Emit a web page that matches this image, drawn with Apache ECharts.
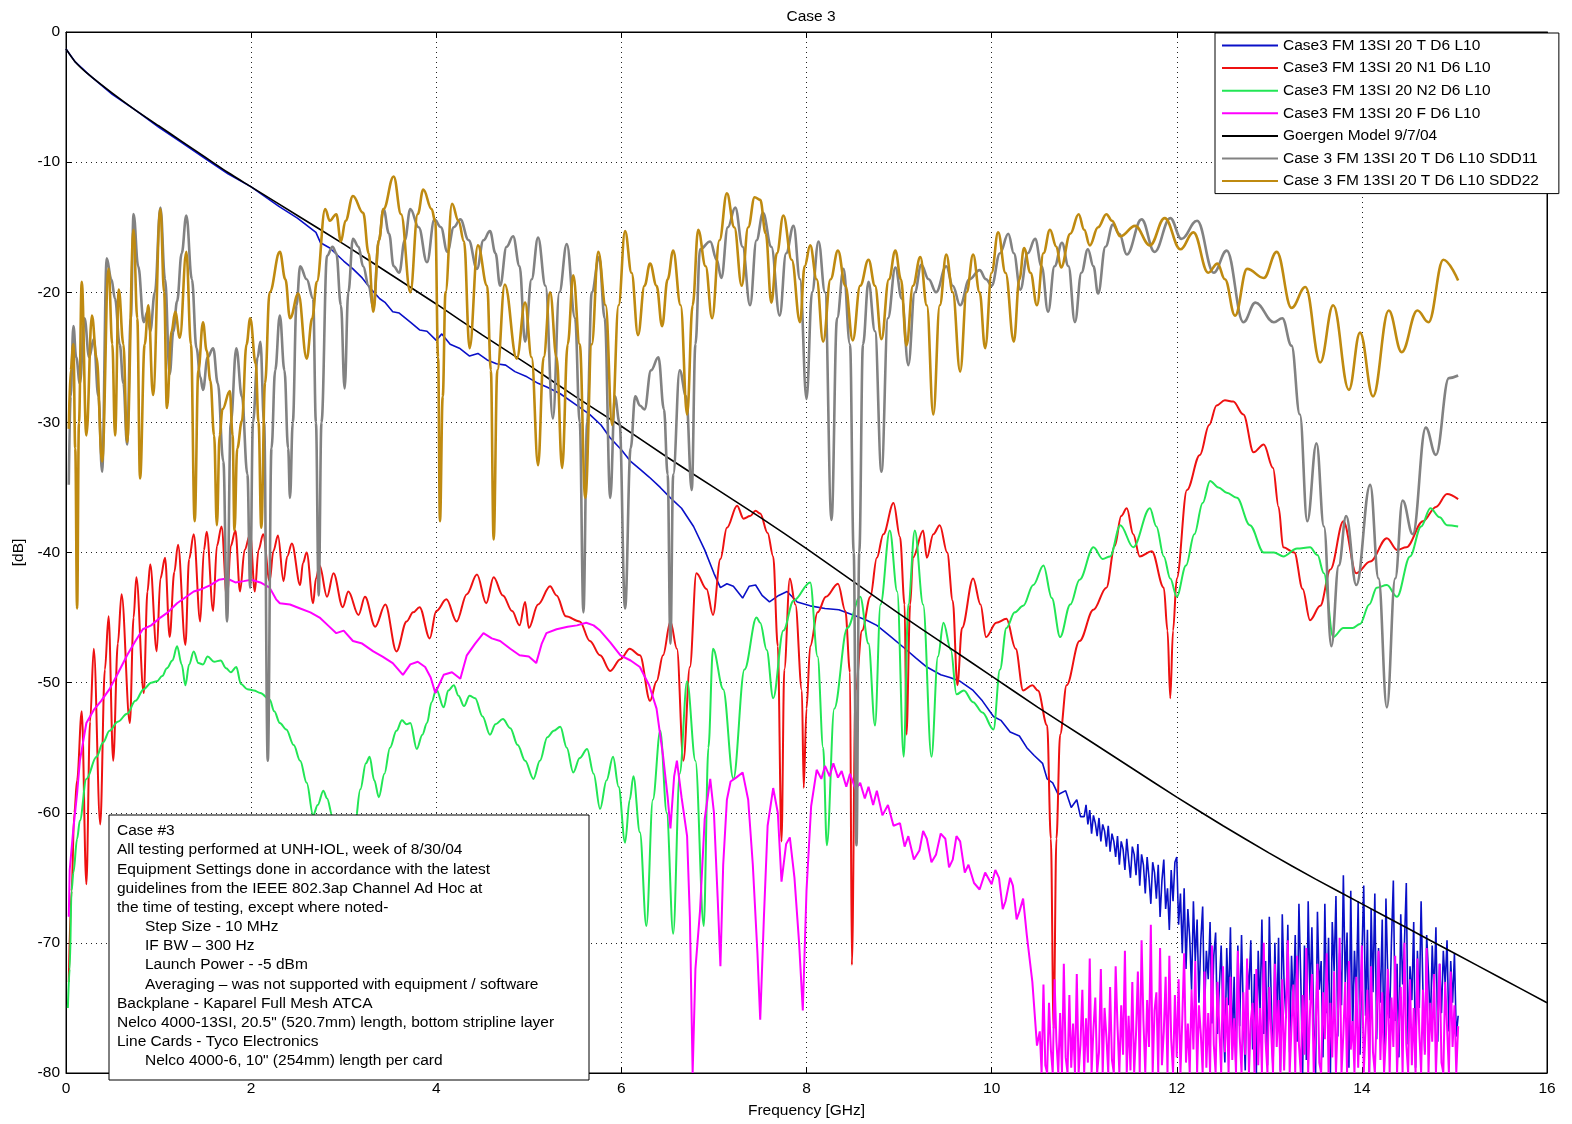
<!DOCTYPE html>
<html>
<head>
<meta charset="utf-8">
<script src="https://cdn.jsdelivr.net/npm/echarts@6/dist/echarts.min.js"></script>
<style>html,body{margin:0;padding:0;background:#fff}#c{width:1572px;height:1124px}</style>
</head>
<body>
<div id="c"></div>
<script>
// ---------------- DATA ----------------
const seriesNames = [
  'Case3 FM 13SI 20 T D6 L10',
  'Case3 FM 13SI 20 N1 D6 L10',
  'Case3 FM 13SI 20 N2 D6 L10',
  'Case3 FM 13SI 20 F D6 L10',
  'Goergen Model 9/7/04',
  'Case 3 FM 13SI 20 T D6 L10 SDD11',
  'Case 3 FM 13SI 20 T D6 L10 SDD22'
];
const xTicks = [0, 2, 4, 6, 8, 10, 12, 14, 16];
const yTicks = [-80, -70, -60, -50, -40, -30, -20, -10, 0];

const goergen = [[0,-1.3],[0.1,-2.3],[0.25,-3.3],[0.5,-4.7],[0.75,-6.0],[1,-7.2],[1.25,-8.4],[1.5,-9.6],[1.75,-10.8],[2,-11.9],[2.5,-14.1],[3,-16.3],[3.5,-18.6],[4,-20.9],[4.5,-23.3],[5,-25.6],[5.5,-28.0],[6,-30.3],[6.5,-32.7],[7,-35.0],[7.5,-37.3],[8,-39.7],[8.5,-42.2],[9,-44.7],[9.5,-47.1],[10,-49.5],[10.5,-51.9],[11,-54.2],[11.5,-56.5],[12,-58.8],[12.5,-61.0],[13,-63.1],[13.5,-65.1],[14,-67.0],[14.5,-68.9],[15,-70.8],[15.5,-72.7],[16,-74.6]];

const thruHead = [[0,-1.3],[0.1,-2.3],[0.25,-3.3],[0.5,-4.8],[0.75,-6.0],[1,-7.3],[1.25,-8.5],[1.5,-9.7],[1.75,-10.9],[2,-11.9],[2.3,-13.4],[2.5,-14.3],[2.7,-15.4],[2.75,-16.2],[2.85,-16.6],[3.0,-17.6],[3.1,-18.2],[3.2,-18.9],[3.3,-19.8],[3.39,-20.5],[3.45,-20.8],[3.53,-21.5],[3.6,-21.6],[3.72,-22.3],[3.82,-22.9],[3.9,-23.0],[4.0,-23.7],[4.06,-23.2],[4.15,-24.0],[4.25,-24.3],[4.36,-24.9],[4.45,-24.7],[4.55,-25.2],[4.65,-25.5],[4.75,-25.6],[4.85,-26.1],[4.98,-26.5],[5.1,-27.0],[5.2,-27.3],[5.34,-27.8],[5.5,-28.6],[5.66,-29.4],[5.78,-30.2],[5.88,-31.2],[6.0,-32.1],[6.1,-33.0],[6.2,-33.6],[6.3,-34.2],[6.42,-35.0],[6.53,-35.8],[6.65,-36.6],[6.78,-38.0],[6.9,-39.8],[7.0,-41.6],[7.07,-42.7],[7.14,-42.4],[7.21,-42.6],[7.31,-43.5],[7.38,-42.6],[7.45,-42.5],[7.52,-43.3],[7.6,-43.8],[7.7,-43.3],[7.79,-43.0],[7.9,-43.8],[8.04,-44.1],[8.2,-44.3],[8.35,-44.4],[8.54,-44.9],[8.65,-45.2],[8.76,-45.6],[8.9,-46.4],[9.05,-47.3],[9.18,-48.1],[9.3,-48.8],[9.45,-49.4],[9.55,-49.6],[9.66,-49.9],[9.8,-50.6],[9.9,-51.4],[10.02,-52.6],[10.1,-52.9],[10.2,-53.8],[10.3,-54.1],[10.38,-55.0],[10.46,-55.6],[10.55,-56.2],[10.6,-57.4],[10.66,-57.7],[10.72,-58.6],[10.8,-58.3],[10.86,-59.6],[10.92,-59.0],[10.96,-60.3]];
// measured noise floor, read on a 0.02 GHz grid starting at 11.00 GHz
const thruTailStart = 11.0, thruTailStep = 0.02;
const thruTail = [
  -60.3,-59.4,-60.9,-59.8,-61.6,-60.2,-60.8,-61.8,-60.4,-62.2,
  -60.9,-61.4,-62.6,-61.0,-63.0,-61.6,-62.2,-63.4,-61.8,-64.0,
  -62.2,-62.8,-64.4,-62.0,-63.6,-65.0,-62.6,-63.2,-64.8,-62.4,
  -65.6,-63.2,-64.0,-66.2,-63.4,-65.0,-67.0,-63.8,-64.6,-66.6,
  -64.0,-68.0,-65.2,-63.6,-67.4,-65.8,-69.0,-64.4,-66.8,-63.8,
  -63.4,-68.6,-66.2,-70.8,-65.8,-72.0,-67.4,-69.6,-73.6,-66.8,
  -71.4,-68.2,-74.6,-69.8,-67.2,-75.4,-70.6,-72.8,-68.4,-76.2,
  -71.0,-69.2,-77.0,-73.4,-70.2,-75.8,
  -79.2,-70.4,-74.8,-68.8,-78.0,-72.6,-80,-70.2,-76.4,-69.4,
  -75.6,-79.8,-71.8,-73.6,-69.8,-78.2,-72.4,-80,-70.6,-75.2,
  -68.2,-77.0,-71.4,-79.4,-68.0,-74.0,-80,-70.0,-76.6,-69.6,
  -79.8,-67.8,-73.2,-75.8,-68.6,-78.4,-71.0,-75.0,-69.4,-77.6,
  -67.0,-72.8,-80,-70.2,-79.0,-66.8,-74.4,-68.8,-76.2,-80,
  -67.6,-73.6,-71.4,-78.8,-67.0,-75.4,-69.6,-80,-68.4,-72.2,
  -66.4,-77.2,-70.8,-74.8,-64.8,-73.0,-69.2,-79.6,-66.0,-76.8,
  -70.6,-74.2,-66.8,-78.6,-71.2,-65.6,-75.6,-69.0,-80,-67.4,
  -73.8,-66.2,-77.4,-70.4,-74.6,-68.2,-79.2,-66.6,-72.6,-75.8,
  -69.8,-65.2,-76.0,-71.6,-78.8,-67.8,-73.2,-70.0,-65.4,-77.8,
  -71.8,-74.4,-68.4,-79.6,-70.6,-75.0,-66.8,-73.8,-78.4,-69.4,
  -72.4,-76.6,-70.2,-74.0,-68.8,-77.6,-71.6,-75.4,-70.6,-73.2,
  -69.8,-76.8,-71.4,-74.6,-70.8,-77.2,-75.6];

const n1 = [[0.03,-73],[0.06,-66],[0.09,-60],[0.12,-57.5],[0.17,-52.2],[0.22,-65.5],[0.26,-53],[0.3,-47.4],[0.37,-60.9],[0.42,-49],[0.46,-44.9],[0.51,-56.0],[0.56,-47],[0.6,-43.2],[0.69,-53.1],[0.73,-45],[0.76,-41.9],[0.84,-50.8],[0.88,-43],[0.91,-40.9],[0.98,-47.6],[1.02,-42],[1.07,-40.4],[1.12,-46.5],[1.17,-41.5],[1.21,-39.4],[1.29,-47.1],[1.33,-40.5],[1.38,-38.6],[1.45,-45.3],[1.49,-39.8],[1.52,-38.4],[1.59,-44.5],[1.63,-39.5],[1.68,-38.0],[1.74,-43.6],[1.78,-39.5],[1.83,-38.3],[1.88,-43.0],[1.93,-39.8],[1.99,-38.6],[2.04,-43.0],[2.08,-39.8],[2.13,-38.6],[2.2,-42.2],[2.24,-39.9],[2.29,-38.7],[2.35,-42.2],[2.39,-40.3],[2.44,-39.3],[2.53,-42.5],[2.56,-40.8],[2.6,-40.0],[2.67,-43.9],[2.7,-42.0],[2.74,-41.0],[2.82,-43.4],[2.89,-41.6],[2.99,-44.2],[3.05,-43.0],[3.16,-44.8],[3.23,-43.4],[3.34,-45.7],[3.45,-44.0],[3.57,-47.6],[3.68,-45.3],[3.75,-44.6],[3.82,-44.2],[3.93,-46.6],[4.0,-44.5],[4.11,-43.6],[4.22,-45.3],[4.33,-43.2],[4.44,-41.7],[4.54,-43.9],[4.62,-41.9],[4.72,-43.3],[4.82,-44.5],[4.9,-45.6],[4.96,-43.8],[5.0,-45.8],[5.1,-44.0],[5.23,-42.6],[5.3,-43.3],[5.4,-44.9],[5.55,-45.3],[5.66,-46.8],[5.77,-47.9],[5.88,-49.1],[5.99,-48.2],[6.09,-47.4],[6.2,-47.9],[6.31,-51.4],[6.38,-49.9],[6.45,-47.9],[6.53,-45.3],[6.6,-47.4],[6.67,-56.0],[6.74,-48.8],[6.81,-41.6],[6.92,-42.8],[6.99,-44.8],[7.07,-40.5],[7.14,-38.1],[7.25,-36.4],[7.32,-37.4],[7.39,-37.2],[7.45,-36.8],[7.5,-37.0],[7.58,-38.5],[7.64,-40.3],[7.69,-47.2],[7.73,-62.2],[7.76,-49.0],[7.82,-42.0],[7.88,-44.0],[7.95,-50.6],[7.97,-58.1],[8.0,-52],[8.04,-47.2],[8.12,-44.6],[8.21,-43.4],[8.34,-42.4],[8.42,-44.5],[8.47,-49.2],[8.49,-71.7],[8.53,-50.6],[8.6,-46.0],[8.69,-43.4],[8.76,-40.4],[8.83,-38.6],[8.94,-36.2],[9.01,-38.8],[9.06,-44.0],[9.08,-54.0],[9.12,-44.0],[9.15,-40.4],[9.26,-38.3],[9.3,-40.4],[9.37,-38.6],[9.44,-37.9],[9.52,-40.0],[9.58,-43.7],[9.63,-50.2],[9.68,-45.8],[9.8,-42.0],[9.88,-44.0],[9.94,-46.5],[10.05,-45.4],[10.16,-45.1],[10.26,-47.4],[10.34,-50.6],[10.44,-50.2],[10.5,-50.6],[10.6,-53.3],[10.64,-62],[10.67,-76.6],[10.7,-62],[10.74,-54.0],[10.81,-50.2],[10.95,-46.8],[11.1,-44.4],[11.24,-42.7],[11.33,-39.5],[11.4,-37.2],[11.46,-36.6],[11.53,-38.6],[11.6,-40.3],[11.73,-39.9],[11.86,-42.7],[11.9,-46],[11.93,-51.2],[11.96,-46],[12.0,-42.0],[12.11,-35.2],[12.25,-32.5],[12.35,-30.2],[12.43,-28.7],[12.52,-28.3],[12.61,-28.4],[12.72,-29.4],[12.83,-32.3],[12.94,-31.7],[13.04,-33.5],[13.1,-36.5],[13.15,-39.6],[13.27,-40.0],[13.36,-42.8],[13.44,-45.2],[13.55,-44.1],[13.66,-41.3],[13.8,-37.6],[13.94,-41.6],[14.09,-40.7],[14.27,-38.9],[14.38,-39.8],[14.48,-39.6],[14.66,-37.6],[14.8,-36.5],[14.92,-35.5],[15.04,-35.9]];

const n2 = [[0.02,-75.0],[0.04,-72],[0.06,-66],[0.08,-64.6],[0.12,-62],[0.15,-60.6],[0.22,-57.4],[0.33,-55.7],[0.4,-54.6],[0.47,-53.7],[0.56,-53.0],[0.66,-52.4],[0.75,-51.4],[0.84,-50.5],[0.92,-50.0],[0.98,-49.9],[1.04,-49.5],[1.09,-48.9],[1.15,-48.3],[1.2,-47.2],[1.25,-48.6],[1.29,-50.2],[1.33,-48.6],[1.38,-47.6],[1.43,-48.5],[1.48,-48.6],[1.53,-48.0],[1.6,-48.4],[1.67,-48.3],[1.73,-48.9],[1.78,-49.2],[1.84,-48.8],[1.89,-50.1],[1.96,-50.5],[2.03,-50.6],[2.1,-50.8],[2.2,-51.3],[2.25,-52.2],[2.31,-53.1],[2.38,-53.6],[2.46,-54.8],[2.53,-56.0],[2.6,-57.7],[2.67,-60.2],[2.72,-59.4],[2.78,-58.3],[2.82,-58.9],[2.88,-60.3],[2.95,-61.5],[3.05,-62.5],[3.12,-61.0],[3.18,-58.2],[3.24,-56.2],[3.28,-55.7],[3.33,-57.5],[3.38,-58.8],[3.44,-57.0],[3.5,-55.0],[3.57,-53.7],[3.63,-52.9],[3.68,-53.2],[3.72,-53.1],[3.79,-55.1],[3.85,-54.0],[3.9,-53.1],[3.95,-51.5],[4.0,-50.5],[4.08,-51.9],[4.13,-50.6],[4.19,-50.2],[4.24,-51.0],[4.3,-51.8],[4.36,-51.0],[4.42,-51.2],[4.5,-52.6],[4.58,-54.0],[4.64,-53.2],[4.72,-52.8],[4.8,-53.5],[4.88,-54.8],[4.96,-56.0],[5.05,-57.4],[5.12,-56.0],[5.2,-54.2],[5.27,-53.7],[5.34,-53.4],[5.41,-55.0],[5.48,-56.9],[5.55,-55.8],[5.63,-55.1],[5.7,-57.0],[5.77,-59.7],[5.84,-57.5],[5.91,-55.7],[5.97,-58.0],[6.04,-62.3],[6.09,-59.0],[6.13,-57.2],[6.2,-61.5],[6.27,-68.7],[6.34,-59.0],[6.42,-53.7],[6.49,-60.0],[6.56,-69.3],[6.63,-57.0],[6.71,-49.9],[6.8,-56.0],[6.89,-68.7],[6.94,-55.0],[6.99,-47.4],[7.1,-50.5],[7.21,-57.4],[7.33,-49.0],[7.46,-45.0],[7.5,-45.4],[7.57,-47.5],[7.64,-51.2],[7.75,-46.0],[7.86,-43.7],[8.04,-42.3],[8.12,-48.0],[8.18,-55.0],[8.22,-62.5],[8.3,-52.0],[8.44,-45.8],[8.58,-43.4],[8.67,-47.0],[8.74,-53.3],[8.8,-44.0],[8.9,-38.3],[8.98,-43.0],[9.05,-55.7],[9.1,-44.0],[9.17,-38.3],[9.26,-44.0],[9.35,-55.7],[9.42,-48.0],[9.48,-45.4],[9.56,-47.5],[9.62,-50.9],[9.7,-50.6],[9.8,-51.5],[9.9,-52.3],[10.02,-53.6],[10.09,-49.0],[10.16,-45.8],[10.25,-44.6],[10.34,-44.1],[10.45,-42.5],[10.56,-41.0],[10.65,-43.5],[10.74,-46.5],[10.85,-44.0],[10.95,-42.1],[11.1,-39.6],[11.2,-40.5],[11.28,-40.3],[11.39,-37.9],[11.53,-39.6],[11.71,-36.6],[11.78,-38.0],[11.86,-40.3],[11.93,-42.0],[12.0,-43.4],[12.1,-41.0],[12.19,-38.6],[12.28,-36.2],[12.36,-34.5],[12.45,-35.0],[12.54,-35.4],[12.65,-35.8],[12.79,-37.9],[12.94,-40.0],[13.05,-40.0],[13.15,-40.3],[13.3,-39.7],[13.44,-39.6],[13.52,-40.2],[13.59,-41.6],[13.69,-46.5],[13.8,-45.8],[13.9,-45.8],[13.98,-45.5],[14.08,-44.0],[14.16,-42.7],[14.27,-42.5],[14.38,-43.4],[14.52,-40.3],[14.64,-38.0],[14.74,-36.6],[14.84,-37.3],[14.92,-37.9],[15.04,-38.0]];

const fextHead = [[0.03,-68],[0.04,-64.4],[0.08,-61.2],[0.12,-58.5],[0.15,-56.0],[0.22,-53.1],[0.3,-52.1],[0.38,-51.4],[0.47,-50.5],[0.56,-49.3],[0.66,-47.9],[0.75,-46.8],[0.83,-45.9],[0.92,-45.6],[1.02,-45.0],[1.1,-44.6],[1.2,-43.9],[1.3,-43.4],[1.38,-43.0],[1.47,-42.8],[1.56,-42.5],[1.65,-42.1],[1.74,-42.0],[1.83,-42.3],[1.92,-42.2],[2.0,-42.1],[2.1,-42.3],[2.2,-42.7],[2.27,-43.6],[2.31,-43.9],[2.42,-44.0],[2.53,-44.3],[2.64,-44.6],[2.74,-45.0],[2.83,-45.6],[2.92,-46.2],[3.0,-46.0],[3.1,-46.8],[3.2,-47.0],[3.32,-47.6],[3.42,-48.0],[3.53,-48.5],[3.64,-49.4],[3.72,-48.6],[3.8,-48.4],[3.88,-48.8],[3.94,-49.6],[3.99,-50.8],[4.08,-49.4],[4.17,-49.2],[4.26,-49.7],[4.33,-47.9],[4.42,-47.0],[4.51,-46.2],[4.6,-46.6],[4.69,-46.8],[4.8,-47.4],[4.9,-47.9],[5.0,-48.0],[5.08,-48.5],[5.14,-47.0],[5.19,-46.2],[5.3,-45.9],[5.42,-45.7],[5.52,-45.6],[5.62,-45.4],[5.7,-45.6],[5.77,-46.0],[5.88,-46.9],[5.99,-47.9],[6.1,-48.3],[6.2,-48.8],[6.3,-50.2],[6.38,-52.0],[6.45,-55.6],[6.5,-58.8],[6.53,-61.2],[6.57,-57.2],[6.6,-56.0],[6.65,-58.8],[6.71,-61.8],[6.74,-68.0],[6.77,-80],[6.8,-72.0],[6.85,-67.5],[6.9,-60.5],[6.96,-57.4],[7.0,-60.0],[7.04,-66.5],[7.07,-71.8],[7.1,-64.0],[7.14,-59.0],[7.18,-57.6],[7.24,-57.3],[7.31,-56.9],[7.37,-59.0],[7.42,-64.0],[7.47,-70.8],[7.5,-75.9],[7.54,-68.0],[7.58,-61.0],[7.64,-58.1],[7.69,-60.0],[7.73,-65.3],[7.78,-62.4],[7.82,-61.9],[7.87,-65.0],[7.92,-70.0],[7.96,-75.2],[8.0,-66.0],[8.05,-59.5],[8.11,-56.7],[8.16,-57.4],[8.2,-56.4],[8.25,-57.2],[8.29,-56.2],[8.34,-57.3],[8.38,-56.8],[8.43,-58.0],[8.47,-57.0],[8.53,-58.2],[8.58,-57.7],[8.63,-58.9],[8.67,-58.0],[8.72,-59.4],[8.76,-58.3],[8.82,-60.2],[8.88,-59.4],[8.94,-61.0],[9.01,-60.8],[9.06,-62.6],[9.1,-61.8],[9.16,-63.6],[9.22,-62.9],[9.26,-61.4],[9.3,-62.0],[9.35,-63.8],[9.4,-63.2],[9.45,-61.6],[9.5,-62.0],[9.54,-64.2],[9.58,-63.6],[9.62,-61.8],[9.66,-62.2],[9.71,-64.6],[9.75,-64.0],[9.81,-65.4],[9.87,-65.9],[9.93,-64.6],[10.0,-65.5],[10.04,-64.4],[10.08,-65.0],[10.12,-67.4],[10.15,-66.8],[10.2,-65.0],[10.23,-65.6],[10.27,-68.2],[10.3,-67.6],[10.34,-66.6],[10.38,-69.4],[10.44,-73.0],[10.49,-77.9]];
// measured noise floor, read on a 0.02 GHz grid starting at 10.52 GHz
const fextTailStart = 10.52, fextTailStep = 0.02;
const fextTail = [
  -76.8,-80,-73.2,-79.4,-80,-74.6,-78.2,-80,-72.8,-77.6,
  -80,-75.4,-80,-71.6,-78.8,-80,-74.0,-79.6,-76.2,-80,
  -72.4,-80,-77.8,-73.6,-80,-75.8,-79.2,-71.2,-80,-76.6,
  -74.2,-80,-78.4,-72.0,-80,-75.0,-77.2,-80,-73.4,-79.0,
  -80,-71.8,-76.4,-80,-74.8,-78.6,-70.6,-80,-75.6,-79.8,
  -73.0,-80,-77.0,-72.2,-80,-69.8,-76.0,-80,-74.4,-78.0,
  -68.6,-80,-75.2,-73.8,-80,-70.4,-79.4,-76.8,-72.6,-80,
  -71.0,-77.4,-80,-74.0,-78.8,-72.8,-80,-75.8,-70.8,-79.2,
  -76.2,-80,-73.6,-78.2,-71.4,-80,-74.8,-77.0,-80,-72.2,
  -79.6,-75.4,-80,-70.2,-77.8,-80,-73.0,-76.6,-80,-71.8,
  -78.4,-74.2,-80,-72.6,-79.0,-75.8,-80,-70.6,-77.2,-80,
  -73.8,-78.6,-71.2,-80,-76.0,-74.6,-80,-72.0,-79.4,-75.0,
  -80,-70.0,-77.6,-80,-73.4,-76.8,-80,-71.6,-78.0,-74.4,
  -80,-72.8,-79.8,-75.6,-69.8,-80,-76.4,-73.2,-80,-71.0,
  -77.8,-80,-74.0,-78.6,-70.4,-80,-75.2,-72.4,-80,-76.8,
  -71.6,-79.2,-80,-73.8,-77.4,-70.8,-80,-74.6,-78.8,-72.2,
  -80,-75.8,-69.6,-80,-77.0,-73.0,-80,-71.4,-78.2,-76.0,
  -80,-72.6,-79.6,-74.8,-70.2,-80,-76.6,-73.6,-80,-71.8,
  -78.4,-80,-75.4,-70.6,-79.0,-73.8,-80,-77.2,-72.0,-80,
  -74.2,-78.0,-71.0,-80,-76.2,-73.4,-80,-70.0,-77.8,-80,
  -72.8,-79.4,-75.0,-80,-71.2,-76.8,-80,-73.6,-78.6,-70.4,
  -80,-74.6,-77.6,-72.4,-80,-75.8,-71.6,-79.2,-80,-73.0,
  -76.4,-80,-72.2,-78.0,-74.8,-80,-76.4];

const sdd11 = [[0.03,-34.8],[0.05,-28],[0.08,-22.6],[0.11,-25],[0.15,-27],[0.2,-22],[0.25,-25],[0.3,-23.6],[0.35,-28],[0.39,-33.8],[0.44,-17.4],[0.49,-19],[0.53,-20.5],[0.58,-24],[0.62,-27],[0.66,-31.7],[0.7,-22],[0.73,-14.0],[0.78,-18],[0.84,-22.3],[0.88,-21.5],[0.91,-23],[0.96,-20],[1.02,-13.5],[1.07,-19],[1.12,-26.3],[1.16,-23],[1.2,-20.7],[1.25,-17],[1.3,-14.1],[1.36,-19],[1.41,-24.3],[1.45,-26.5],[1.48,-27.5],[1.53,-25],[1.59,-24.3],[1.64,-27],[1.7,-33],[1.74,-45.3],[1.78,-30],[1.84,-24.3],[1.9,-28],[1.96,-34],[1.99,-42.7],[2.02,-30],[2.07,-25],[2.1,-23.8],[2.14,-30],[2.18,-56],[2.22,-32],[2.26,-26],[2.31,-21.8],[2.36,-26],[2.4,-32],[2.42,-35.8],[2.45,-30],[2.49,-21],[2.53,-18.0],[2.6,-19],[2.67,-20.5],[2.7,-30],[2.73,-43.3],[2.76,-30],[2.82,-17.2],[2.88,-16.5],[2.92,-17],[2.97,-21],[3.01,-27.4],[3.05,-20],[3.1,-15.9],[3.16,-16.5],[3.21,-18],[3.27,-19.5],[3.32,-21.2],[3.38,-16],[3.43,-13.6],[3.49,-15.5],[3.54,-18.0],[3.6,-18.5],[3.66,-16],[3.72,-13.6],[3.81,-15],[3.9,-17.7],[3.98,-14.4],[4.05,-15],[4.12,-16.9],[4.19,-15],[4.26,-14.4],[4.35,-16],[4.44,-18.2],[4.51,-16],[4.58,-15.3],[4.64,-17],[4.69,-19.5],[4.76,-16.5],[4.83,-15.7],[4.9,-18],[4.96,-23.8],[5.03,-19],[5.1,-15.8],[5.18,-19.5],[5.26,-29.7],[5.33,-20],[5.41,-16.3],[5.5,-22],[5.55,-30],[5.59,-44.6],[5.63,-30],[5.68,-20],[5.76,-17.3],[5.82,-22],[5.88,-35.8],[5.93,-28],[5.98,-30],[6.04,-44.3],[6.1,-32],[6.15,-28],[6.2,-28.7],[6.25,-29],[6.32,-26],[6.4,-25.0],[6.46,-29],[6.5,-34],[6.53,-47.0],[6.56,-34],[6.63,-26],[6.7,-28],[6.76,-35.2],[6.8,-24],[6.85,-16.7],[6.96,-16.1],[7.03,-17.5],[7.08,-18.9],[7.15,-15],[7.23,-13.5],[7.31,-16.5],[7.39,-21.0],[7.46,-16],[7.53,-13.9],[7.62,-16.5],[7.71,-21.8],[7.78,-17],[7.86,-14.9],[7.93,-19],[8.0,-28.2],[8.06,-20],[8.13,-16.1],[8.2,-20],[8.27,-37.5],[8.33,-22],[8.4,-18.2],[8.47,-24],[8.51,-40],[8.54,-62.5],[8.57,-40],[8.61,-24],[8.67,-19.2],[8.74,-23],[8.81,-33.8],[8.88,-22],[8.96,-18.1],[9.03,-20.5],[9.1,-25.6],[9.17,-20],[9.24,-17.9],[9.32,-19],[9.4,-20],[9.51,-18.0],[9.58,-19.5],[9.66,-21.0],[9.76,-19],[9.87,-18.3],[9.94,-19],[10.0,-19.5],[10.09,-17],[10.18,-15.5],[10.24,-17],[10.31,-19.8],[10.39,-17],[10.47,-15.9],[10.54,-18],[10.61,-21.5],[10.68,-18],[10.76,-16.2],[10.83,-18],[10.9,-22.3],[10.97,-18.5],[11.04,-16.7],[11.1,-18],[11.15,-20.1],[11.23,-16.5],[11.31,-14.8],[11.38,-15.5],[11.46,-17.1],[11.62,-14.4],[11.76,-16.9],[11.93,-14.3],[12.05,-15.9],[12.22,-14.5],[12.4,-18.5],[12.54,-16.8],[12.72,-22.3],[12.85,-20.8],[13.05,-22.3],[13.14,-22.0],[13.24,-24.1],[13.33,-29.4],[13.41,-37.6],[13.51,-31.6],[13.59,-38],[13.67,-47.2],[13.75,-41],[13.83,-37.2],[13.94,-42.5],[14.09,-34.8],[14.18,-42],[14.27,-51.9],[14.36,-42],[14.44,-36.0],[14.55,-38.6],[14.69,-30.4],[14.8,-32.5],[14.94,-26.6],[15.04,-26.4]];

const sdd22 = [[0.03,-30.5],[0.05,-26],[0.08,-24],[0.1,-32],[0.12,-44.3],[0.14,-30],[0.17,-19.2],[0.22,-31.0],[0.28,-21.8],[0.33,-25],[0.39,-33.0],[0.46,-18.2],[0.5,-24],[0.53,-31.0],[0.57,-19.8],[0.62,-24],[0.66,-31.5],[0.73,-15.2],[0.77,-22],[0.8,-34.3],[0.85,-24],[0.89,-21.0],[0.94,-27.9],[1.02,-13.6],[1.06,-20],[1.09,-28.9],[1.14,-23],[1.18,-21.5],[1.23,-23.5],[1.3,-16.9],[1.35,-24],[1.39,-37.6],[1.43,-26],[1.48,-22.3],[1.52,-24.5],[1.56,-26.8],[1.6,-31],[1.63,-37.9],[1.66,-31],[1.69,-29],[1.77,-27.6],[1.8,-31],[1.82,-38.3],[1.85,-32],[1.9,-29.9],[1.95,-24],[1.99,-22.0],[2.05,-25.5],[2.08,-30],[2.11,-38.1],[2.15,-27],[2.2,-20.0],[2.31,-16.9],[2.37,-19],[2.42,-22.0],[2.51,-20.1],[2.6,-25.1],[2.66,-22],[2.71,-19.2],[2.8,-13.6],[2.85,-14.5],[2.92,-14.0],[2.97,-16.1],[3.02,-14.5],[3.1,-12.6],[3.21,-13.9],[3.27,-17],[3.32,-21.5],[3.38,-16],[3.43,-13.6],[3.54,-11.1],[3.62,-14],[3.72,-20.0],[3.8,-14],[3.86,-12.1],[3.95,-13.6],[3.99,-14.6],[4.02,-25],[4.04,-37.6],[4.07,-28],[4.1,-20],[4.17,-13.2],[4.24,-14.5],[4.3,-16.1],[4.36,-24.3],[4.45,-16.4],[4.55,-19.5],[4.59,-26],[4.62,-39.0],[4.66,-26],[4.74,-19.4],[4.87,-25.1],[4.96,-20.8],[5.03,-25],[5.1,-33.3],[5.16,-25],[5.23,-20.0],[5.3,-25],[5.36,-33.5],[5.42,-24],[5.48,-18.7],[5.55,-24],[5.61,-35.8],[5.68,-24],[5.75,-16.9],[5.83,-21],[5.9,-30.2],[5.97,-21],[6.04,-15.3],[6.11,-18.5],[6.18,-23.3],[6.25,-19.5],[6.31,-17.8],[6.38,-19.5],[6.44,-22.6],[6.5,-19],[6.56,-16.8],[6.64,-21],[6.71,-29.4],[6.77,-21],[6.83,-15.2],[6.91,-18],[6.98,-22.0],[7.06,-16],[7.14,-12.4],[7.22,-15],[7.3,-19.5],[7.37,-15],[7.44,-12.7],[7.5,-12.9],[7.56,-15.5],[7.62,-20.8],[7.68,-17],[7.75,-14.1],[7.84,-17.5],[7.93,-22.3],[7.98,-18],[8.04,-16.4],[8.11,-19],[8.18,-23.8],[8.26,-19],[8.34,-16.8],[8.42,-19.5],[8.5,-23.7],[8.58,-19.5],[8.67,-17.5],[8.74,-19.5],[8.81,-23.6],[8.89,-19],[8.96,-16.8],[9.02,-19],[9.08,-24.1],[9.15,-19.5],[9.23,-17.3],[9.3,-21],[9.37,-29.4],[9.44,-21],[9.51,-17.1],[9.58,-20],[9.66,-26.1],[9.73,-20],[9.8,-17.1],[9.87,-20],[9.93,-24.3],[10.0,-18.5],[10.07,-15.4],[10.15,-18.5],[10.24,-23.8],[10.3,-19],[10.35,-16.6],[10.42,-18.5],[10.49,-21.0],[10.56,-17],[10.63,-15.2],[10.7,-16.5],[10.75,-18.1],[10.85,-15.5],[10.94,-14.0],[11.0,-15.2],[11.06,-16.4],[11.15,-15],[11.24,-14.0],[11.3,-14.5],[11.39,-15.7],[11.55,-14.9],[11.71,-16.4],[11.87,-14.3],[12.04,-16.7],[12.18,-15.4],[12.34,-18.5],[12.44,-17.8],[12.52,-19],[12.63,-21.8],[12.76,-18.2],[12.94,-18.9],[13.08,-16.9],[13.24,-21.2],[13.39,-19.6],[13.55,-25.4],[13.69,-21.0],[13.86,-27.5],[13.98,-23.1],[14.12,-28.0],[14.29,-21.4],[14.43,-24.6],[14.6,-21.4],[14.72,-22.3],[14.88,-17.5],[15.04,-19.1]];

const noteLines = [
  ['Case #3', 0],
  ['All testing performed at UNH-IOL, week of 8/30/04', 0],
  ['Equipment Settings done in accordance with the latest', 0],
  ['guidelines from the IEEE 802.3ap Channel Ad Hoc at', 0],
  ['the time of testing, except where noted-', 0],
  ['Step Size - 10 MHz', 1],
  ['IF BW \u2013 300 Hz', 1],
  ['Launch Power - -5 dBm', 1],
  ['Averaging \u2013 was not supported with equipment / software', 1],
  ['Backplane - Kaparel Full Mesh ATCA', 0],
  ['Nelco 4000-13SI, 20.5" (520.7mm) length, bottom stripline layer', 0],
  ['Line Cards - Tyco Electronics', 0],
  ['Nelco 4000-6, 10" (254mm) length per card', 1]
];

// ---------------- BUILD ----------------
const gridFreq = (start, step, i) => Math.round((start + i * step) * 100) / 100;
const thru = thruHead.concat(thruTail.map((v, i) => [gridFreq(thruTailStart, thruTailStep, i), v]));
const fext = fextHead.concat(fextTail.map((v, i) => [gridFreq(fextTailStart, fextTailStep, i), v]));

const FONT = '"Liberation Sans", Arial, Helvetica, sans-serif';
const FS = 15.5;
const colors = ['#0a10c8', '#ee1111', '#22e655', '#ff00ff', '#000000', '#828282', '#bf8a10'];
const datasets = [thru, n1, n2, fext, goergen, sdd11, sdd22];
const widths = [1.6, 2, 2, 2, 1.6, 2.6, 2.6];
const smoothOn = [false, 0.35, 0.35, false, 0.25, 0.4, 0.4];

const series = datasets.map((d, i) => ({
  name: seriesNames[i],
  type: 'line',
  data: d,
  color: colors[i],
  showSymbol: false,
  symbol: 'none',
  smooth: smoothOn[i],
  smoothMonotone: (smoothOn[i] && i !== 4) ? 'x' : undefined,
  lineStyle: { color: colors[i], width: widths[i] },
  emphasis: { disabled: true },
  z: 2 + i
}));

const axisCommon = {
  type: 'value',
  axisLine: { show: true, onZero: false, lineStyle: { color: '#000', width: 1 } },
  axisTick: { show: true, inside: true, length: 6, lineStyle: { color: '#000' } },
  splitLine: { show: false },
  axisLabel: { color: '#000', fontSize: FS, fontFamily: FONT }
};

const graphics = [{
  type: 'rect',
  shape: { x: 109, y: 815, width: 480, height: 265 },
  style: { fill: '#fff', stroke: '#000', lineWidth: 1 },
  z: 100
}].concat(noteLines.map((l, i) => ({
  type: 'text',
  x: l[1] ? 145 : 117,
  y: 831 + i * 19.17,
  style: { text: l[0], fill: '#000', font: FS + 'px ' + FONT, textVerticalAlign: 'middle' },
  z: 101
})));

const chart = echarts.init(document.getElementById('c'), null, { renderer: 'canvas' });
chart.setOption({
  animation: false,
  backgroundColor: '#fff',
  title: {
    text: 'Case 3', left: 806, top: 4, textAlign: 'center',
    textStyle: { fontSize: FS, fontWeight: 'normal', color: '#000', fontFamily: FONT }
  },
  grid: { left: 66, right: 25, top: 32, bottom: 47, show: true, borderColor: '#000', borderWidth: 1, backgroundColor: 'transparent' },
  legend: {
    data: seriesNames,
    orient: 'vertical',
    left: 1215, top: 33,
    padding: [4, 20, 4, 7],
    itemWidth: 56, itemHeight: 2, itemGap: 5.6,
    icon: 'rect',
    backgroundColor: '#fff',
    borderColor: '#000', borderWidth: 1, borderRadius: 0,
    textStyle: { fontSize: FS, color: '#000', fontFamily: FONT, lineHeight: 17 },
    selectedMode: false,
    z: 100
  },
  xAxis: [
    Object.assign({}, axisCommon, {
      min: 0, max: 16, interval: 2, position: 'bottom',
      name: 'Frequency [GHz]', nameLocation: 'middle', nameGap: 30,
      nameTextStyle: { fontSize: FS, color: '#000', fontFamily: FONT },
      axisLabel: Object.assign({}, axisCommon.axisLabel, { margin: 8, formatter: v => xTicks.includes(v) ? String(v) : '' }),
      splitLine: { show: true, lineStyle: { color: '#222', type: [1, 4], width: 1 } }
    }),
    Object.assign({}, axisCommon, { min: 0, max: 16, interval: 2, position: 'top', axisLabel: { show: false } })
  ],
  yAxis: [
    Object.assign({}, axisCommon, {
      min: -80, max: 0, interval: 10, position: 'left',
      name: '[dB]', nameLocation: 'middle', nameGap: 34, nameRotate: 90,
      nameTextStyle: { fontSize: FS, color: '#000', fontFamily: FONT },
      axisLabel: Object.assign({}, axisCommon.axisLabel, { margin: 6, formatter: v => yTicks.includes(v) ? String(v) : '' }),
      splitLine: { show: true, lineStyle: { color: '#222', type: [1, 4], width: 1 } }
    }),
    Object.assign({}, axisCommon, { min: -80, max: 0, interval: 10, position: 'right', axisLabel: { show: false } })
  ],
  series: series,
  graphic: graphics
});
</script>
</body>
</html>
